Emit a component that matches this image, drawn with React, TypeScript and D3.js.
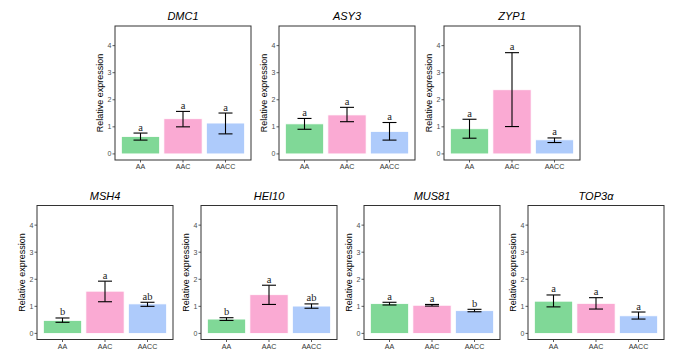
import React from "react";
import * as d3 from "d3";

const categories = ["AA", "AAC", "AACC"];
const genes = ["DMC1", "ASY3", "ZYP1", "MSH4", "HEI10", "MUS81", "TOP3α"];
const means = [
  [0.64, 1.3, 1.14],
  [1.11, 1.44, 0.83],
  [0.93, 2.37, 0.52],
  [0.48, 1.56, 1.09],
  [0.53, 1.43, 1.01],
  [1.1, 1.04, 0.84],
  [1.19, 1.11, 0.65],
];
const errLow = [
  [0.51, 1.0, 0.74],
  [0.91, 1.19, 0.51],
  [0.58, 1.01, 0.42],
  [0.41, 1.17, 1.0],
  [0.48, 1.07, 0.93],
  [1.05, 1.01, 0.8],
  [0.98, 0.9, 0.53],
];
const errHigh = [
  [0.77, 1.57, 1.51],
  [1.31, 1.72, 1.16],
  [1.28, 3.74, 0.59],
  [0.57, 1.93, 1.15],
  [0.58, 1.78, 1.09],
  [1.15, 1.07, 0.89],
  [1.42, 1.32, 0.79],
];
const letters = [
  ["a", "a", "a"],
  ["a", "a", "a"],
  ["a", "a", "a"],
  ["b", "a", "ab"],
  ["b", "a", "ab"],
  ["a", "a", "b"],
  ["a", "a", "a"],
];
const yTicks = [0, 1, 2, 3, 4];
const colors = ["#80d897", "#faaad3", "#aecbfb"];

const panelPos = [
  { x: 115, y: 26 },
  { x: 279, y: 26 },
  { x: 444, y: 26 },
  { x: 37, y: 205.5 },
  { x: 201, y: 205.5 },
  { x: 364, y: 205.5 },
  { x: 528, y: 205.5 },
];
const PW = 136;
const PH = 134;

function Panel({ i }: { i: number }) {
  const { x: x0, y: y0 } = panelPos[i];
  const x = d3.scaleBand().domain(categories).range([x0, x0 + PW]).paddingInner(0.1).paddingOuter(0.15);
  const y = d3.scaleLinear().domain([-0.225, 4.725]).range([y0 + PH, y0]);
  const bw = x.bandwidth();
  const capW = 14;
  const sans = "Liberation Sans, Arial, sans-serif";
  return (
    <g>
      <text x={x0 + PW / 2} y={y0 - 6} textAnchor="middle" fontFamily={sans} fontStyle="italic" fontSize={11} fill="#000">
        {genes[i]}
      </text>
      {categories.map((c, j) => {
        const cx = (x(c) as number) + bw / 2;
        return (
          <g key={c}>
            <rect x={x(c)} y={y(means[i][j])} width={bw} height={y(0) - y(means[i][j])} fill={colors[j]} stroke="#fff" strokeWidth={0.8} />
            <line x1={cx} x2={cx} y1={y(errLow[i][j])} y2={y(errHigh[i][j])} stroke="#000" strokeWidth={1.1} />
            <line x1={cx - capW / 2} x2={cx + capW / 2} y1={y(errLow[i][j])} y2={y(errLow[i][j])} stroke="#000" strokeWidth={1.1} />
            <line x1={cx - capW / 2} x2={cx + capW / 2} y1={y(errHigh[i][j])} y2={y(errHigh[i][j])} stroke="#000" strokeWidth={1.1} />
            <text x={cx} y={y(errHigh[i][j]) - 2.5} textAnchor="middle" fontFamily="Liberation Serif, Times New Roman, serif" fontSize={10.5} fill="#222">
              {letters[i][j]}
            </text>
            <line x1={cx} x2={cx} y1={y0 + PH} y2={y0 + PH + 2.5} stroke="#333" strokeWidth={0.8} />
            <text x={cx} y={y0 + PH + 9} textAnchor="middle" fontFamily={sans} fontSize={7.1} fill="#333">
              {c}
            </text>
          </g>
        );
      })}
      {yTicks.map((t) => (
        <g key={t}>
          <line x1={x0 - 2.5} x2={x0} y1={y(t)} y2={y(t)} stroke="#333" strokeWidth={0.8} />
          <text x={x0 - 3.5} y={y(t)} dy="0.35em" textAnchor="end" fontFamily={sans} fontSize={7} fill="#4d4d4d">
            {t}
          </text>
        </g>
      ))}
      <rect x={x0} y={y0} width={PW} height={PH} fill="none" stroke="#333" strokeWidth={1} />
      <text
        transform={`translate(${x0 - 12},${y0 + PH / 2}) rotate(-90)`}
        textAnchor="middle"
        fontFamily={sans}
        fontSize={9}
        fill="#000"
      >
        Relative expression
      </text>
    </g>
  );
}

export default function App() {
  return (
    <svg width={693} height={356} style={{ position: "absolute", left: 0, top: 0, background: "#fff" }}>
      <rect width={693} height={356} fill="#fff" />
      {genes.map((g, i) => (
        <Panel key={g} i={i} />
      ))}
    </svg>
  );
}
